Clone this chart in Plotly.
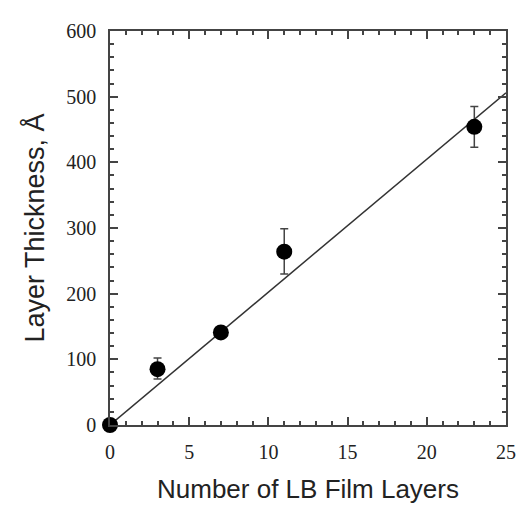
import plotly.graph_objects as go

layers = [0, 3, 7, 11, 23]
thickness = [0, 85, 141, 264, 454]
err_plus = [0, 17, 0, 35, 31]
err_minus = [0, 15, 0, 34, 31]
fit_x = [0, 25]
fit_y = [0, 506]

fig = go.Figure()
fig.add_trace(go.Scatter(x=fit_x, y=fit_y, mode="lines",
                         line=dict(color="#333", width=1.5), showlegend=False))
fig.add_trace(go.Scatter(x=layers, y=thickness, mode="markers",
                         marker=dict(color="black", size=16),
                         error_y=dict(type="data", symmetric=False, array=err_plus,
                                      arrayminus=err_minus, color="#444", thickness=1.5, width=4),
                         showlegend=False, cliponaxis=False))

axis_common = dict(showline=True, linecolor="#444", linewidth=1.5, mirror="ticks",
                   ticks="inside", tickcolor="#444", ticklen=8, tickwidth=1.5,
                   showgrid=False, zeroline=False, ticklabelstandoff=8,
                   tickfont=dict(family="Liberation Serif, Times New Roman, serif", size=20, color="#222"))

fig.update_layout(
    width=520, height=503,
    margin=dict(l=102, r=12, t=16, b=80),
    plot_bgcolor="white", paper_bgcolor="white",
    xaxis=dict(range=[0, 25], tickvals=[0, 5, 10, 15, 20, 25],
               minor=dict(ticks="inside", ticklen=4, tickcolor="#444", dtick=1),
               title=dict(text="Number of LB Film Layers", standoff=18,
                          font=dict(family="Liberation Sans, Arial, sans-serif", size=26, color="#222")),
               **axis_common),
    yaxis=dict(range=[0, 600], tickvals=[0, 100, 200, 300, 400, 500, 600],
               minor=dict(ticks="inside", ticklen=4, tickcolor="#444", dtick=20),
               title=dict(text="Layer Thickness, Å", standoff=14,
                          font=dict(family="Liberation Sans, Arial, sans-serif", size=27, color="#222")),
               **axis_common),
)

fig.write_html("out.html")
